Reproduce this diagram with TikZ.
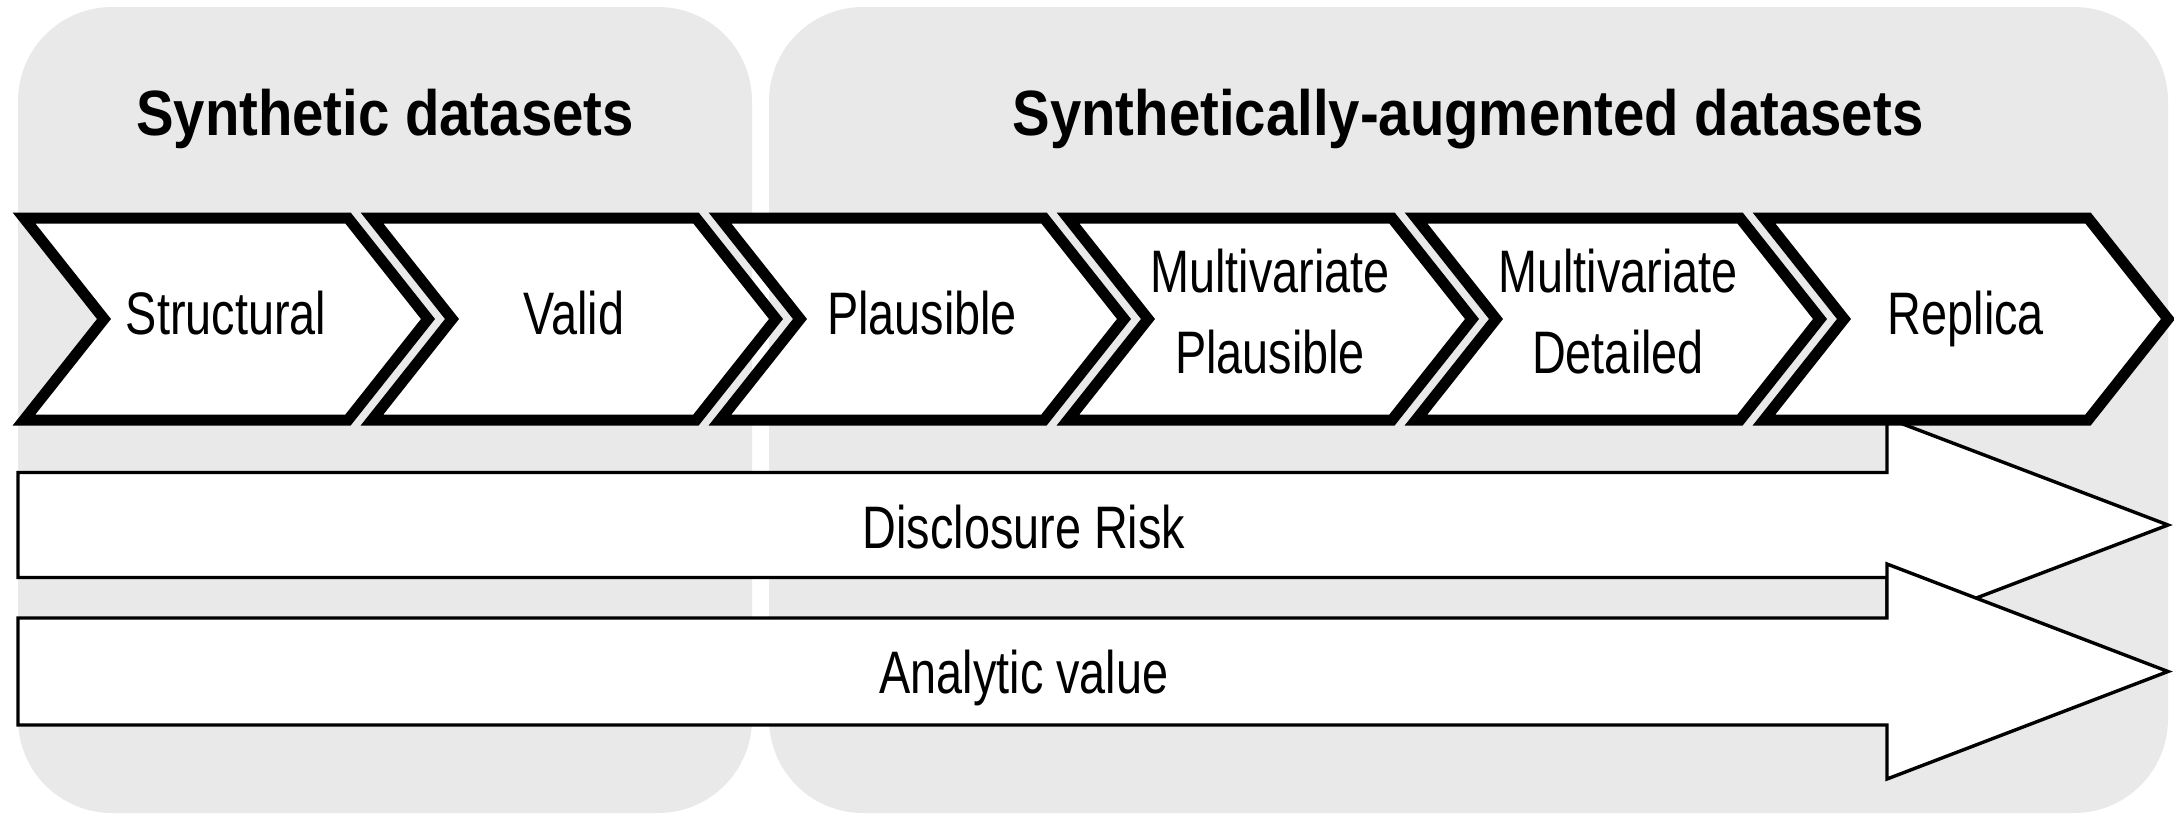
\documentclass[tikz,border=0pt]{standalone}
\usepackage{fontspec}
\setmainfont{Liberation Sans}[FakeStretch=0.78]
\newfontfamily\headfont{Liberation Sans}[FakeStretch=0.88]
\definecolor{panelgray}{RGB}{233,233,233}
\tikzset{
  panel/.style={fill=panelgray, draw=none, rounded corners=47pt},
  chevbox/.style={draw=black, fill=white, line width=5.5pt, line join=miter},
  bigarrow/.style={draw=black, fill=white, line width=1.7pt, line join=miter},
  steptext/.style={font=\fontsize{30}{40.5}\selectfont, align=center, anchor=base, inner sep=0pt},
  headtext/.style={font=\headfont\bfseries\fontsize{32}{38}\selectfont, anchor=base, inner sep=0pt}
}
\begin{document}
\begin{tikzpicture}[x=0.5pt, y=-0.5pt]
\useasboundingbox (0,0) rectangle (2174,815);
% grey panels
\path[panel] (18,7) rectangle (752,813);
\path[panel] (769,7) rectangle (2168,813);
\node[headtext] (synth) at (385,135) {Synthetic datasets};
\node[headtext] (augm) at (1468,135) {Synthetically-augmented datasets};
% block arrows
\draw[bigarrow] (18,472.5) -- (1887,472.5) -- (1887,418) -- (2168,525) -- (1887,632) -- (1887,577.5) -- (18,577.5) -- cycle;
\node[steptext] (risk) at (1024,548) {Disclosure Risk};
\draw[bigarrow] (18,618) -- (1887,618) -- (1887,564) -- (2168,671.5) -- (1887,779) -- (1887,725) -- (18,725) -- cycle;
\node[steptext] (value) at (1024,693) {Analytic value};
% chevrons
\foreach \k in {0,...,5}{
  \pgfmathsetmacro{\xa}{24+348*\k}
  \draw[chevbox] (\xa,218) -- ++(324,0) -- ++(80,101) -- ++(-80,101) -- ++(-324,0) -- ++(80,-101) -- cycle;
}
\node[steptext] (structural) at (226,334) {Structural};
\node[steptext] (valid) at (574,334) {Valid};
\node[steptext] (plausible) at (922,334) {Plausible};
\node[steptext] (mvplaus) at (1270,373) {Multivariate\\Plausible};
\node[steptext] (mvdetail) at (1618,373) {Multivariate\\Detailed};
\node[steptext] (replica) at (1966,334) {Replica};
\end{tikzpicture}
\end{document}
